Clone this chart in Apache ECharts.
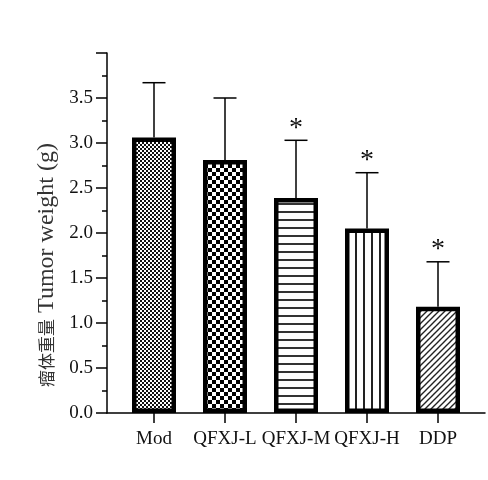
<!DOCTYPE html>
<html>
<head>
<meta charset="utf-8">
<script src="https://cdn.jsdelivr.net/npm/echarts@6/dist/echarts.min.js"></script>
<style>
  html, body { margin: 0; padding: 0; background: #fff; }
  #chart { width: 488px; height: 480px; }
</style>
</head>
<body>
<div id="chart"></div>
<script>
// data
var groups = ['Mod', 'QFXJ-L', 'QFXJ-M', 'QFXJ-H', 'DDP']
var weights = [3.06, 2.81, 2.39, 2.05, 1.18]
var errTops = [3.67, 3.50, 3.03, 2.67, 1.68]
var marks = ['', '', '*', '*', '*']

var serif = '"Liberation Serif", "Times New Roman", serif'

// fill patterns for the bars
function makeTile(w, h, draw) {
    var c = document.createElement('canvas')
    c.width = w
    c.height = h
    var ctx = c.getContext('2d')
    ctx.fillStyle = '#fff'
    ctx.fillRect(0, 0, w, h)
    draw(ctx)
    return c
}
var fineChecker = makeTile(4, 4, function (ctx) {
    ctx.fillStyle = '#111'
    ctx.fillRect(0, 0, 2, 2)
    ctx.fillRect(2, 2, 2, 2)
})
var bigChecker = makeTile(8, 8, function (ctx) {
    ctx.fillStyle = '#000'
    ctx.fillRect(0, 0, 4, 4)
    ctx.fillRect(4, 4, 4, 4)
})
var hLines = makeTile(4, 8, function (ctx) {
    ctx.fillStyle = '#333'
    ctx.fillRect(0, 3, 4, 2)
})
var vLines = makeTile(8, 4, function (ctx) {
    ctx.fillStyle = '#222'
    ctx.fillRect(3, 0, 2, 4)
})
var diag = makeTile(6, 6, function (ctx) {
    ctx.strokeStyle = '#222'
    ctx.lineWidth = 1.4
    ctx.beginPath()
    ctx.moveTo(-1, 7); ctx.lineTo(7, -1)
    ctx.moveTo(-7, 7); ctx.lineTo(1, -1)
    ctx.moveTo(5, 7); ctx.lineTo(13, -1)
    ctx.stroke()
})
var tiles = [fineChecker, bigChecker, hLines, vLines, diag]

var barData = weights.map(function (v, i) {
    return {
        value: v,
        itemStyle: { color: { image: tiles[i], repeat: 'repeat' } }
    }
})

var errData = groups.map(function (g, i) {
    return [i, weights[i], errTops[i], marks[i]]
})

var option = {
    animation: false,
    grid: [
        { left: 118.5, right: 14.5, top: 53, bottom: 67 },
        { left: 107, right: 3, top: 53, bottom: 67 }
    ],
    xAxis: [
        {
            type: 'category',
            gridIndex: 0,
            data: groups,
            axisLine: { show: false },
            axisTick: { show: true, alignWithLabel: true, length: 10, lineStyle: { color: '#000', width: 1.5 } },
            axisLabel: { color: '#111', fontFamily: serif, fontSize: 19, margin: 17, interval: 0 }
        },
        {
            type: 'value',
            gridIndex: 1,
            min: 0,
            max: 1,
            axisLine: { show: true, lineStyle: { color: '#000', width: 1.5 } },
            axisTick: { show: false },
            axisLabel: { show: false },
            splitLine: { show: false }
        }
    ],
    yAxis: [
        {
            type: 'value',
            gridIndex: 0,
            min: 0,
            max: 4,
            show: false
        },
        {
            type: 'value',
            gridIndex: 1,
            min: 0,
            max: 4,
            interval: 0.5,
            name: '{cn|瘤体重量} {en|Tumor weight (g)}',
            nameLocation: 'middle',
            nameGap: 48,
            nameTextStyle: {
                color: '#333', fontFamily: serif, fontSize: 24,
                padding: [0, 64, 0, 0],
                rich: {
                    cn: { fontFamily: '"Noto Sans CJK SC", sans-serif', fontSize: 17, color: '#333' },
                    en: { fontFamily: serif, fontSize: 24, color: '#333' }
                }
            },
            axisLine: { show: true, lineStyle: { color: '#000', width: 1.5 } },
            axisTick: { show: true, length: 11, lineStyle: { color: '#000', width: 1.5 } },
            minorTick: { show: true, splitNumber: 2, length: 5, lineStyle: { color: '#000', width: 1.5 } },
            axisLabel: {
                color: '#111', fontFamily: serif, fontSize: 19, margin: 14,
                formatter: function (v) { return v === 4 ? '' : v.toFixed(1) }
            },
            splitLine: { show: false }
        }
    ],
    series: [
        {
            type: 'bar',
            xAxisIndex: 0,
            yAxisIndex: 0,
            barWidth: 44,
            data: barData,
            itemStyle: { borderColor: '#000', borderWidth: 4.5 },
            z: 3
        },
        {
            type: 'custom',
            xAxisIndex: 0,
            yAxisIndex: 0,
            data: errData,
            z: 2,
            renderItem: function (params, api) {
                var base = api.coord([api.value(0), api.value(1)])
                var top = api.coord([api.value(0), api.value(2)])
                var half = 11.5
                var kids = [
                    { type: 'line', shape: { x1: base[0], y1: base[1], x2: top[0], y2: top[1] },
                      style: { stroke: '#000', lineWidth: 1.5 } },
                    { type: 'line', shape: { x1: top[0] - half, y1: top[1], x2: top[0] + half, y2: top[1] },
                      style: { stroke: '#000', lineWidth: 1.5 } }
                ]
                var m = errData[params.dataIndex][3]
                if (m) {
                    kids.push({
                        type: 'text',
                        style: {
                            text: m, x: top[0], y: top[1] - 12,
                            align: 'center', verticalAlign: 'middle',
                            font: '28px ' + serif, fill: '#111'
                        }
                    })
                }
                return { type: 'group', children: kids }
            }
        }
    ]
}

var chart = echarts.init(document.getElementById('chart'))
chart.setOption(option)
</script>
</body>
</html>
